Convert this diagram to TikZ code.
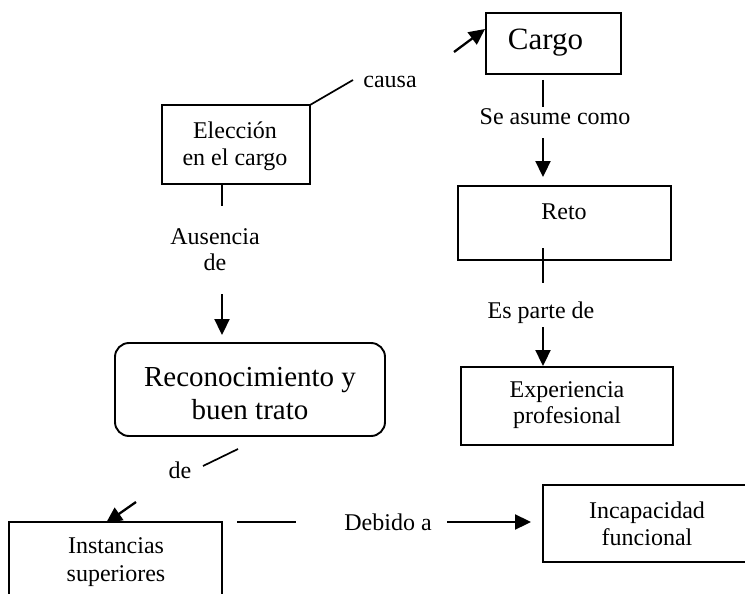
\documentclass[tikz,border=0pt]{standalone}
\usepackage{fontspec}
\setmainfont{Liberation Serif}
\usetikzlibrary{arrows.meta}
\tikzset{
  box/.style={draw, line width=1.9pt, inner sep=0pt, outer sep=0pt},
  txt/.style={inner sep=0pt, align=center, font=\fontsize{24}{27}\selectfont},
  thin/.style={line width=1.2pt},
  conn/.style={line width=1.7pt},
  arr/.style={line width=2.3pt, -{Triangle[length=16pt,width=15pt]}}
}
\begin{document}
\begin{tikzpicture}[x=1pt,y=-1pt]
\clip (0,0) rectangle (745,594);
\fill[white] (0,0) rectangle (745,594);

% boxes
\node[box, minimum width=135pt, minimum height=61pt] (cargo) at (553.5,43.5) {};
\node[box, minimum width=148pt, minimum height=79pt] (elec) at (236,144.5) {};
\node[box, rounded corners=14pt, minimum width=270pt, minimum height=93pt] (reco) at (250,389.5) {};
\node[box, minimum width=213pt, minimum height=74pt] (reto) at (564.5,223) {};
\node[box, minimum width=212pt, minimum height=78pt] (exp) at (567,406) {};
\node[box, minimum width=213pt, minimum height=120pt] (inst) at (115.5,582) {};
\node[box, minimum width=217pt, minimum height=77pt] (incap) at (651.5,523.5) {};

% texts
\node[txt, font=\fontsize{31}{35}\selectfont] (tcargo) at (545.5,43) {Cargo};
\node[txt] (telec) at (235,146.5) {Elección\\en el cargo};
\node[txt] (tcausa) at (390,82) {causa};
\node[txt, font=\fontsize{24}{26}\selectfont] (taus) at (215,250) {Ausencia\\de};
\node[txt, font=\fontsize{29}{33}\selectfont] (treco) at (250,393.5) {Reconocimiento y\\buen trato};
\node[txt] (tde) at (180,470) {de};
\node[txt, font=\fontsize{24}{28}\selectfont] (tinst) at (116,562) {Instancias\\superiores};
\node[txt] (tdeb) at (388,522) {Debido a};
\node[txt] (tincap) at (647,523.5) {Incapacidad\\funcional};
\node[txt] (tse) at (555,117) {Se asume como};
\node[txt] (treto) at (564,212) {Reto};
\node[txt] (tes) at (541,313) {Es parte de};
\node[txt, font=\fontsize{24}{26}\selectfont] (texp) at (567,405) {Experiencia\\profesional};

% connector end points
\coordinate (c1) at (353,80);
\coordinate (a1s) at (454,52);
\coordinate (a1e) at (485,29);
\coordinate (l2s) at (543,80);
\coordinate (l2e) at (543,107);
\coordinate (a2s) at (543,138);
\coordinate (a2e) at (543,177);
\coordinate (l3s) at (543,248);
\coordinate (l3e) at (543,283);
\coordinate (a3s) at (543,327);
\coordinate (a3e) at (543,366);
\coordinate (l4s) at (222,184);
\coordinate (l4e) at (222,206);
\coordinate (a4s) at (222,294);
\coordinate (a4e) at (222,335);
\coordinate (l5s) at (203,466);
\coordinate (l5e) at (238,449);
\coordinate (a5s) at (136,502);
\coordinate (a5e) at (106,523);
\coordinate (l6s) at (237,522);
\coordinate (l6e) at (296,522);
\coordinate (a6s) at (447,522);
\coordinate (a6e) at (531,522);

% connectors
\draw[conn] (elec.north east) -- (c1);
\draw[arr] (a1s) -- (a1e);
\draw[thin] (l2s) -- (l2e);
\draw[arr] (a2s) -- (a2e);
\draw[thin] (l3s) -- (l3e);
\draw[arr] (a3s) -- (a3e);
\draw[thin] (l4s) -- (l4e);
\draw[arr] (a4s) -- (a4e);
\draw[conn] (l5s) -- (l5e);
\draw[arr] (a5s) -- (a5e);
\draw[conn] (l6s) -- (l6e);
\draw[arr] (a6s) -- (a6e);
\end{tikzpicture}
\end{document}
